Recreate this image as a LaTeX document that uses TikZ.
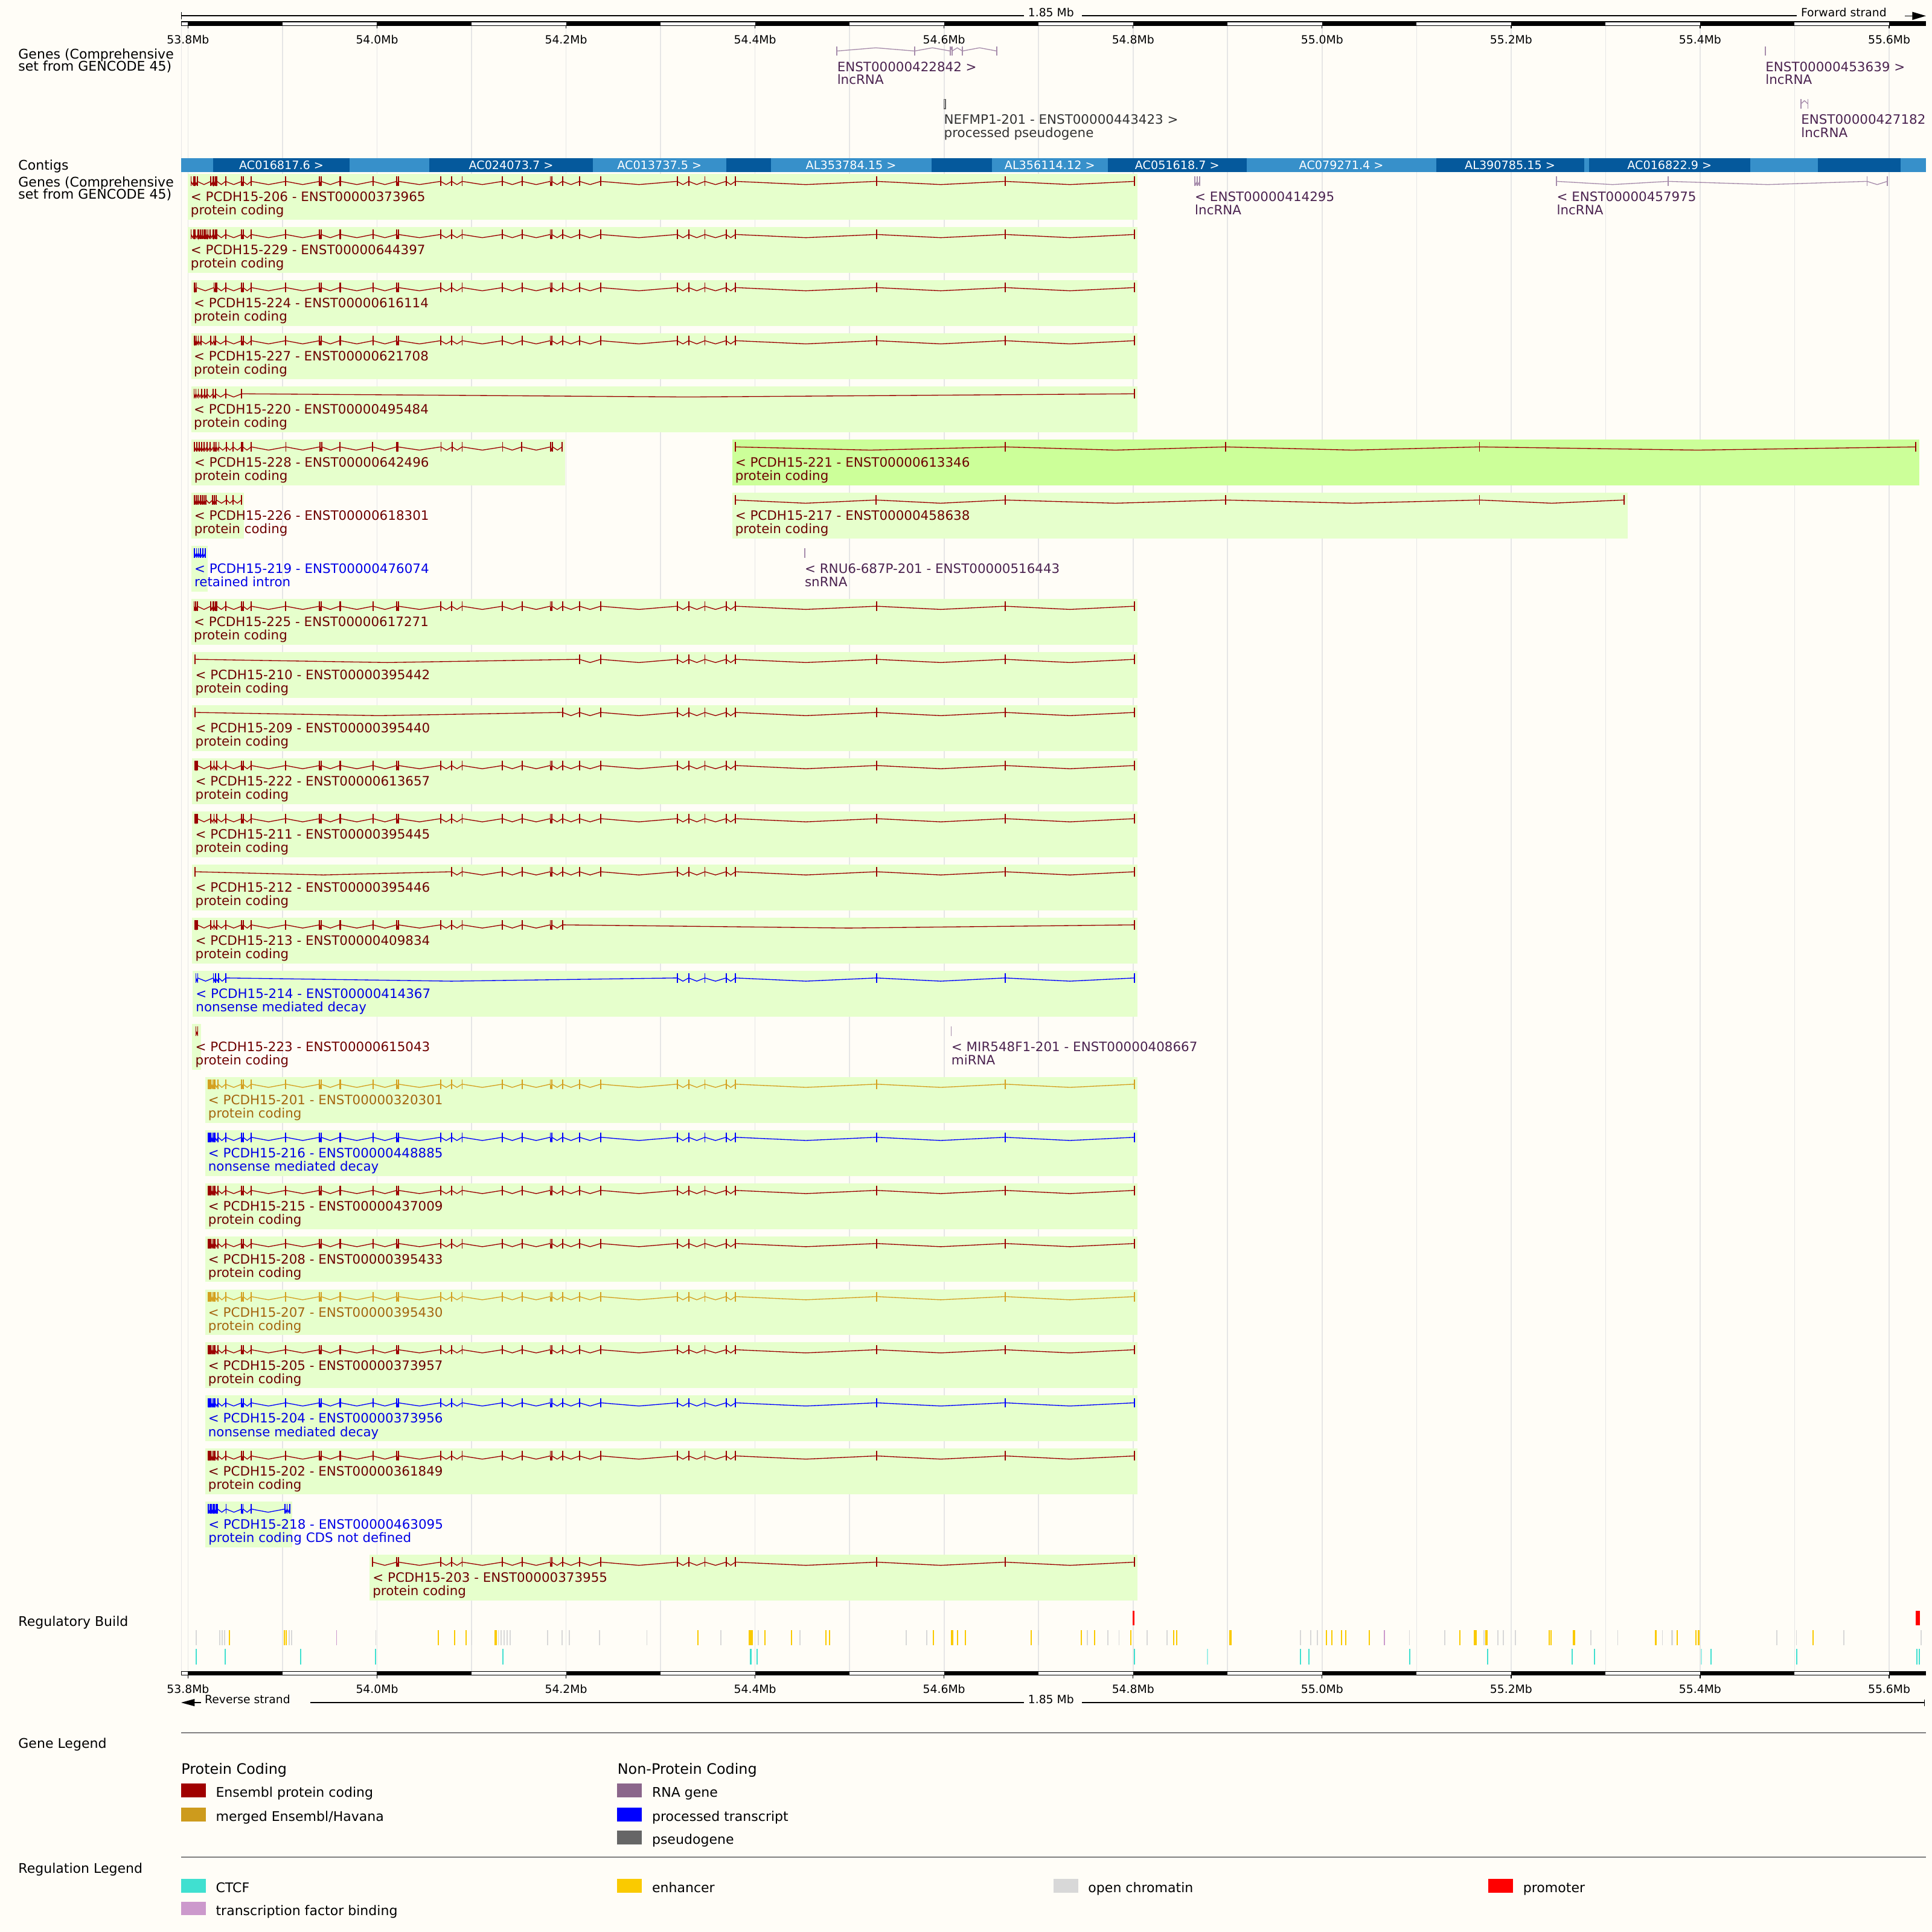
\documentclass[tikz,border=0pt]{standalone}
\usepackage{fontspec}
\setmainfont{DejaVu Sans}
\definecolor{bg}{HTML}{FFFDF7}
\definecolor{boxg}{HTML}{E6FFCC}
\definecolor{boxh}{HTML}{CCFF99}
\definecolor{pcx}{HTML}{9B0000}
\definecolor{pct}{HTML}{6E0000}
\definecolor{gdx}{HTML}{D4A020}
\definecolor{gdt}{HTML}{A5650F}
\definecolor{blx}{HTML}{0000FF}
\definecolor{blt}{HTML}{0000E6}
\definecolor{lnx}{HTML}{A68CAB}
\definecolor{lnt}{HTML}{4B2350}
\definecolor{psx}{HTML}{666666}
\definecolor{pst}{HTML}{333333}
\definecolor{ctl}{HTML}{3790CA}
\definecolor{ctd}{HTML}{05599C}
\definecolor{gridc}{HTML}{E6E6E6}
\definecolor{ctcf}{HTML}{40E0D0}
\definecolor{enh}{HTML}{FACA00}
\definecolor{opc}{HTML}{D8D8D8}
\definecolor{tfb}{HTML}{CC99CC}
\definecolor{prm}{HTML}{FF0000}
\definecolor{rnag}{HTML}{8B668B}
\definecolor{mrg}{HTML}{CD9B1D}
\definecolor{epc}{HTML}{A00000}
\newcommand\fs[1]{\fontsize{#1}{#1}\selectfont}
\def\PCG{183.1,196.2,197.3,203.9,231.9,259.4,260.5,275.6,276.5,302.7,322.1,323.3,357.6,366.6,375.1,407.8,423.7,446.6,447.8,456.5,470.3,487.5,549.6,558.9,572.1,589.3,596.8,711.3,815.7,920.9}
\def\PCH{549.6,558.9,572.1,589.3,596.8,711.3,815.7,920.9}
\def\PCS{169,170,171,172.2,173.4,174.5,177,\PCG}
\newcommand\PCtx[4]{%
  \edef\PCxl{#4}%
  \foreach \x [remember=\x as \lx (initially -1)] in \PCxl {%
    \ifdim\lx pt>0pt
      \draw[#2,line width=0.65] (\lx,#1) -- ({(\lx+\x)/2},#1+#3) -- (\x,#1);
    \fi
    \fill[#2] (\x-0.45,#1-3.9) rectangle (\x+0.45,#1+3.9);
  }}
\newcommand\PCline[3]{\pgfmathsetmacro\PCy{141.3+43.1*#1+5.9}\PCtx{\PCy}{#2}{2.6}{#3}}
\newcommand\PCbox[4]{\pgfmathsetmacro\PCt{141.3+43.1*#1}\fill[#4] (#2,\PCt) rectangle (#3,\PCt+37.2);}
\newcommand\PClab[6]{\pgfmathsetmacro\PCt{141.3+43.1*#1}%
  \node[lbl,text=#3] (#4a) at (#2,\PCt+22.3) {#5};
  \node[lbl,text=#3] (#4b) at (#2,\PCt+33.1) {#6};}
\begin{document}
\begin{tikzpicture}[x=1pt,y=-1pt,
  lbl/.style={anchor=base west,inner sep=0pt,font=\fs{10.5}},
  side/.style={anchor=base west,inner sep=0pt,font=\fs{10.8},text=black},
  sclab/.style={inner sep=0pt,font=\fs{9.2},text=black},
  ctg/.style={inner sep=0pt,font=\fs{9.4},text=white},
  leg/.style={anchor=base west,inner sep=0pt,font=\fs{10.8},text=black},
  legh/.style={anchor=base west,inner sep=0pt,font=\fs{11.7},text=black}]
\fill[bg] (0,0) rectangle (1568,1568);
\useasboundingbox (0,0) rectangle (1568,1568);
% grid
\draw[gridc,line width=0.8] (147.2,21) -- (147.2,1356.4);
\foreach \j in {0,...,18} \draw[gridc,line width=0.8] ({152.6+76.7*\j},21) -- ({152.6+76.7*\j},1356.4);
% top scale
\draw[black,line width=0.6] (147.2,10) -- (147.2,15.5);
\draw[black,line width=0.6] (147.2,12.7) -- (831,12.7);
\draw[black,line width=0.6] (878,12.7) -- (1458,12.7);
\node[sclab,anchor=base] (len1) at (853,13.4) {1.85 Mb};
\node[sclab,anchor=base west] (fwd) at (1461.5,13.4) {Forward strand};
\draw[black,line width=0.6] (1546,12.9) -- (1553,12.9);
\fill[black] (1552,9.6) -- (1563,12.9) -- (1552,16.2) -- cycle;
\fill[white] (147.2,17.6) rectangle (1563,20.9);
\foreach \j in {0,2,...,16} \fill[black] ({152.6+76.7*\j},17.6) rectangle ({152.6+76.7*(\j+1)},20.9);
\fill[black] (1533.2,17.6) rectangle (1563,20.9);
\draw[black,line width=0.6] (147.2,17.6) rectangle (1563,20.9);
\foreach \j in {0,2,...,18} \draw[black,line width=0.6] ({152.6+76.7*\j},20.9) -- ({152.6+76.7*\j},23.2);
\foreach \j/\t in {0/53.8,2/54.0,4/54.2,6/54.4,8/54.6,10/54.8,12/55.0,14/55.2,16/55.4,18/55.6}
  \node[sclab] (st\j) at ({152.6+76.7*\j},32.1) {\t Mb};
% side labels
\node[side] (s1) at (14.7,47.7) {Genes (Comprehensive};
\node[side] (s2) at (14.7,57.5) {set from GENCODE 45)};
\node[side] (s3) at (14.7,138) {Contigs};
\node[side] (s4) at (14.7,151.6) {Genes (Comprehensive};
\node[side] (s5) at (14.7,161.4) {set from GENCODE 45)};
\node[side] (s6) at (14.7,1320) {Regulatory Build};
% forward strand genes
\PCtx{41.4}{lnx}{-2.6}{679.3,742.3,771.2,772.8,781,809}
\node[lbl,text=lnt] (f1a) at (679.3,58) {ENST00000422842 >};
\node[lbl,text=lnt] (f1b) at (679.3,68.6) {lncRNA};
\PCtx{41.4}{lnx}{-2.6}{1432.7}
\node[lbl,text=lnt] (f2a) at (1432.7,58) {ENST00000453639 >};
\node[lbl,text=lnt] (f2b) at (1432.7,68.6) {lncRNA};
\draw[psx,line width=0.6] (766,80.5) rectangle (767.3,88.2);
\node[lbl,text=pst] (f3a) at (766,100.9) {NEFMP1-201 - ENST00000443423 >};
\node[lbl,text=pst] (f3b) at (766,111.5) {processed pseudogene};
\begin{scope}
\clip (0,0) rectangle (1563,1568);
\PCtx{84.3}{lnx}{-2.6}{1461.6,1467.3}
\node[lbl,text=lnt] (f4a) at (1461.6,100.9) {ENST00000427182 >};
\node[lbl,text=lnt] (f4b) at (1461.6,111.5) {lncRNA};
\end{scope}
% contigs
\fill[ctl] (147.2,128.4) rectangle (1563,139.7);
\foreach \a/\b in {173.1/283.7,348.4/481.2,589.3/625.6,755.9/805,899/1011.8,1165.5/1285.5,1289.6/1420.4,1475.2/1542.3}
  \fill[ctd] (\a,128.4) rectangle (\b,139.7);
\node[ctg] (c1) at (228.4,134.2) {AC016817.6 >};
\node[ctg] (c2) at (414.8,134.2) {AC024073.7 >};
\node[ctg] (c3) at (535.2,134.2) {AC013737.5 >};
\node[ctg] (c4) at (690.7,134.2) {AL353784.15 >};
\node[ctg] (c5) at (852,134.2) {AL356114.12 >};
\node[ctg] (c6) at (955.4,134.2) {AC051618.7 >};
\node[ctg] (c7) at (1088.6,134.2) {AC079271.4 >};
\node[ctg] (c8) at (1225.5,134.2) {AL390785.15 >};
\node[ctg] (c9) at (1355,134.2) {AC016822.9 >};
% reverse strand boxes
\PCbox{0}{152.5}{923}{boxg}
\PCbox{1}{152.5}{923}{boxg}
\PCbox{2}{155.1}{923}{boxg}
\PCbox{3}{155.1}{923}{boxg}
\PCbox{4}{155.1}{923}{boxg}
\PCbox{5}{155.4}{458.5}{boxg}
\PCbox{5}{594.2}{1557.5}{boxh}
\PCbox{6}{155.4}{198.2}{boxg}
\PCbox{6}{594.2}{1321}{boxg}
\PCbox{7}{155.5}{168.8}{boxg}
\PCbox{8}{155.1}{923}{boxg}
\foreach \k in {9,...,14} {\PCbox{\k}{156}{923}{boxg}}
\PCbox{15}{156.5}{923}{boxg}
\PCbox{16}{156}{163.3}{boxg}
\foreach \k in {17,...,24} {\PCbox{\k}{166.5}{923}{boxg}}
\PCbox{25}{166.7}{237}{boxg}
\PCbox{26}{300}{923}{boxg}
% transcripts
\PCline{0}{pcx}{155.1,157.3,158.4,160.1,171.0,172.8,173.7,175.0,176.1,\PCG}
\PClab{0}{154.6}{pct}{t206}{< PCDH15-206 - ENST00000373965}{protein coding}
\PCtx{147.2}{lnx}{2.6}{969.6,971.5,973.5}
\PClab{0}{969.6}{lnt}{t295}{< ENST00000414295}{lncRNA}
\PCtx{147.2}{lnx}{2.6}{1263.3,1354,1515.3,1531.7}
\PClab{0}{1263.3}{lnt}{t975}{< ENST00000457975}{lncRNA}
\PCline{1}{pcx}{155.1,157.3,158.4,160.6,161.4,162.7,164.0,165.6,166.7,167.8,168.8,170.6,172.8,173.7,175.0,176.1,\PCG}
\PClab{1}{154.6}{pct}{t229}{< PCDH15-229 - ENST00000644397}{protein coding}
\PCline{2}{pcx}{157.5,158.4,159.5,173.7,175.0,176.1,\PCG}
\PClab{2}{157.2}{pct}{t224}{< PCDH15-224 - ENST00000616114}{protein coding}
\PCline{3}{pcx}{157.5,158.4,159.5,161,163,171,173.7,175,\PCG}
\PClab{3}{157.2}{pct}{t227}{< PCDH15-227 - ENST00000621708}{protein coding}
\PCline{4}{pcx}{157.5,159,161,163.5,166,168,172.8,175,183.1,196.2,920.9}
\PClab{4}{157.2}{pct}{t220}{< PCDH15-220 - ENST00000495484}{protein coding}
\PCline{5}{pcx}{157.9,159.8,161.7,163.5,165.7,167.9,170.4,173.2,174.5,175.7,177.6,183.9,189.2,196.0,197,203.9,232.0,259.5,261.0,275.7,302.3,322.0,322.9,357.9,367,375.1,407.9,423.5,446.9,448.5,456.3}
\PClab{5}{157.5}{pct}{t228}{< PCDH15-228 - ENST00000642496}{protein coding}
\PCline{5}{pcx}{596.8,815.8,994.5,1200.7,1554.9}
\PClab{5}{596.5}{pct}{t221}{< PCDH15-221 - ENST00000613346}{protein coding}
\PCline{6}{pcx}{157.9,159.4,160.9,162.5,164.1,165.7,167.2,172.5,174,175.6,183.9,189.2,196.0}
\PClab{6}{157.5}{pct}{t226}{< PCDH15-226 - ENST00000618301}{protein coding}
\PCline{6}{pcx}{596.8,710.8,815.8,994.5,1200.7,1318}
\PClab{6}{596.5}{pct}{t217}{< PCDH15-217 - ENST00000458638}{protein coding}
\PCline{7}{blx}{157.9,159.5,161,162.5,164.5,166.5}
\PClab{7}{157.6}{blt}{t219}{< PCDH15-219 - ENST00000476074}{retained intron}
\PCline{7}{lnx}{653}
\PClab{7}{653}{lnt}{t443}{< RNU6-687P-201 - ENST00000516443}{snRNA}
\PCline{8}{pcx}{157.5,158.8,160.1,171,172.8,173.7,175,176.1,\PCG}
\PClab{8}{157.2}{pct}{t225}{< PCDH15-225 - ENST00000617271}{protein coding}
\PCline{9}{pcx}{158.4,470.3,487.5,\PCH}
\PClab{9}{158.4}{pct}{t210}{< PCDH15-210 - ENST00000395442}{protein coding}
\PCline{10}{pcx}{158.4,456.5,470.3,487.5,\PCH}
\PClab{10}{158.4}{pct}{t209}{< PCDH15-209 - ENST00000395440}{protein coding}
\PCline{11}{pcx}{158.4,159.2,160.1,171,173.7,176.1,\PCG}
\PClab{11}{158.4}{pct}{t222}{< PCDH15-222 - ENST00000613657}{protein coding}
\PCline{12}{pcx}{158.4,159.2,160.1,171,173.7,176.1,\PCG}
\PClab{12}{158.4}{pct}{t211}{< PCDH15-211 - ENST00000395445}{protein coding}
\PCline{13}{pcx}{158.4,366.6,375.1,407.8,423.7,446.6,447.8,456.5,470.3,487.5,\PCH}
\PClab{13}{158.4}{pct}{t212}{< PCDH15-212 - ENST00000395446}{protein coding}
\PCline{14}{pcx}{158.4,159.2,160.1,171,173.7,176.1,183.1,196.2,197.3,203.9,231.9,259.4,260.5,275.6,276.5,302.7,322.1,323.3,357.6,366.6,375.1,407.8,423.7,446.6,447.8,456.5,920.9}
\PClab{14}{158.4}{pct}{t213}{< PCDH15-213 - ENST00000409834}{protein coding}
\PCline{15}{blx}{159,160.5,173.2,175,177.5,183.2,\PCH}
\PClab{15}{158.8}{blt}{t214}{< PCDH15-214 - ENST00000414367}{nonsense mediated decay}
\PCline{16}{pcx}{159,160.5}
\PClab{16}{158.4}{pct}{t223}{< PCDH15-223 - ENST00000615043}{protein coding}
\PCline{16}{lnx}{772}
\PClab{16}{772}{lnt}{t667}{< MIR548F1-201 - ENST00000408667}{miRNA}
\PCline{17}{gdx}{\PCS}
\PClab{17}{168.8}{gdt}{t201}{< PCDH15-201 - ENST00000320301}{protein coding}
\PCline{18}{blx}{\PCS}
\PClab{18}{168.8}{blt}{t216}{< PCDH15-216 - ENST00000448885}{nonsense mediated decay}
\PCline{19}{pcx}{\PCS}
\PClab{19}{168.8}{pct}{t215}{< PCDH15-215 - ENST00000437009}{protein coding}
\PCline{20}{pcx}{\PCS}
\PClab{20}{168.8}{pct}{t208}{< PCDH15-208 - ENST00000395433}{protein coding}
\PCline{21}{gdx}{\PCS}
\PClab{21}{168.8}{gdt}{t207}{< PCDH15-207 - ENST00000395430}{protein coding}
\PCline{22}{pcx}{\PCS}
\PClab{22}{168.8}{pct}{t205}{< PCDH15-205 - ENST00000373957}{protein coding}
\PCline{23}{blx}{\PCS}
\PClab{23}{168.8}{blt}{t204}{< PCDH15-204 - ENST00000373956}{nonsense mediated decay}
\PCline{24}{pcx}{\PCS}
\PClab{24}{168.8}{pct}{t202}{< PCDH15-202 - ENST00000361849}{protein coding}
\PCline{25}{blx}{168.9,170.5,171.7,173,174,175.3,176.5,183.5,196.2,197.2,203.8,231.4,233,235}
\PClab{25}{169}{blt}{t218}{< PCDH15-218 - ENST00000463095}{protein coding CDS not defined}
\PCline{26}{pcx}{302.5,322.1,323.3,357.6,366.6,375.1,407.8,423.7,446.6,447.8,456.5,470.3,487.5,\PCH}
\PClab{26}{302.3}{pct}{t203}{< PCDH15-203 - ENST00000373955}{protein coding}
% regulatory build
\fill[prm] (919.3,1307.4) rectangle (920.7,1319.3);
\fill[prm] (1554.6,1307.4) rectangle (1558.1,1319.3);
\foreach \x in {159.2,178.4,180.3,182.2,234.7,236.6,305,382.9,404.5,406.8,409.2,411.6,414,444.3,456,462.1,486.5,525,585,615.4,649.2,735.4,752.3,842.8,882.4,899.1,908.2,930.9,947.2,1055.5,1063.6,1069.1,1143.9,1172.4,1204.2,1215.5,1220,1230,1291.2,1312.9,1349.2,1442.1,1458,1496.5,1559.1}
  \fill[opc] (\x-0.45,1322.9) rectangle (\x+0.45,1335.2);
\fill[opc] (1356.2,1322.9) rectangle (1357.6,1335.2);
\foreach \x in {186.0,231,232.4,355.7,368.8,378.2,566.2,621,642.6,670.3,673.1,757.5,772,773.4,777.2,783.3,836.8,877.8,888.2,917.7,952.6,954.9,1076.3,1080.9,1088.6,1092.2,1111.2,1184.7,1257.2,1259,1276.7,1278.1,1343.8,1361.4,1376.4,1378.6,1471.6}
  \fill[enh] (\x-0.5,1322.9) rectangle (\x+0.5,1335.2);
\foreach \x in {402.1,608.4,610.2,998.8,1197.3,1206.4}
  \fill[enh] (\x-1,1322.9) rectangle (\x+1,1335.2);
\foreach \x in {273.2,1123.5}
  \fill[tfb] (\x-0.45,1322.9) rectangle (\x+0.45,1335.2);
\foreach \x in {159.2,182.7,244.1,304.6,408.2,609.3,614.5,920.9,1055.5,1062.3,1143.9,1207.4,1275.8,1293.9,1388.6,1458,1555.9,1557.7}
  \fill[ctcf] (\x-0.5,1338.4) rectangle (\x+0.5,1350.7);
\foreach \x in {980,1380.9}
  \fill[ctcf!50] (\x-0.35,1338.4) rectangle (\x+0.35,1350.7);
% bottom scale
\fill[white] (147.2,1356.4) rectangle (1563,1359.6);
\foreach \j in {0,2,...,16} \fill[black] ({152.6+76.7*\j},1356.4) rectangle ({152.6+76.7*(\j+1)},1359.6);
\fill[black] (1533.2,1356.4) rectangle (1563,1359.6);
\draw[black,line width=0.6] (147.2,1356.4) rectangle (1563,1359.6);
\foreach \j in {0,2,...,18} \draw[black,line width=0.6] ({152.6+76.7*\j},1359.6) -- ({152.6+76.7*\j},1362);
\foreach \j/\t in {0/53.8,2/54.0,4/54.2,6/54.4,8/54.6,10/54.8,12/55.0,14/55.2,16/55.4,18/55.6}
  \node[sclab] (sb\j) at ({152.6+76.7*\j},1370.6) {\t Mb};
\fill[black] (147,1381.8) -- (158,1378.8) -- (158,1384.8) -- cycle;
\draw[black,line width=0.6] (157,1381.8) -- (163,1381.8);
\node[sclab,anchor=base west] (rev) at (166,1382.6) {Reverse strand};
\draw[black,line width=0.6] (252,1381.8) -- (831,1381.8);
\draw[black,line width=0.6] (878,1381.8) -- (1562,1381.8);
\draw[black,line width=0.6] (1562,1379.3) -- (1562,1384.6);
\node[sclab,anchor=base] (len2) at (853,1382.6) {1.85 Mb};
% legends
\draw[black!50,line width=1] (147,1406.2) -- (1563,1406.2);
\node[side] (g1) at (14.7,1419) {Gene Legend};
\node[legh] (g2) at (147,1440) {Protein Coding};
\node[legh] (g3) at (501,1440) {Non-Protein Coding};
\fill[epc] (147,1447.5) rectangle (167,1458.5);
\node[leg] (g4) at (175,1458.5) {Ensembl protein coding};
\fill[mrg] (147,1467.1) rectangle (167,1478.1);
\node[leg] (g5) at (175,1478.1) {merged Ensembl/Havana};
\fill[rnag] (501,1447.5) rectangle (521,1458.5);
\node[leg] (g6) at (529,1458.5) {RNA gene};
\fill[blx] (501,1467.1) rectangle (521,1478.1);
\node[leg] (g7) at (529,1478.1) {processed transcript};
\fill[psx] (501,1485.8) rectangle (521,1496.9);
\node[leg] (g8) at (529,1496.9) {pseudogene};
\draw[black!50,line width=1] (147,1507.2) -- (1563,1507.2);
\node[side] (r1) at (14.7,1520) {Regulation Legend};
\fill[ctcf] (147,1525) rectangle (167,1536);
\node[leg] (r2) at (175,1536) {CTCF};
\fill[enh] (501,1525) rectangle (521,1536);
\node[leg] (r3) at (529,1536) {enhancer};
\fill[opc] (855,1525) rectangle (875,1536);
\node[leg] (r4) at (883,1536) {open chromatin};
\fill[prm] (1208,1525) rectangle (1228,1536);
\node[leg] (r5) at (1236,1536) {promoter};
\fill[tfb] (147,1543.4) rectangle (167,1554.5);
\node[leg] (r6) at (175,1554.5) {transcription factor binding};
\end{tikzpicture}
\end{document}
